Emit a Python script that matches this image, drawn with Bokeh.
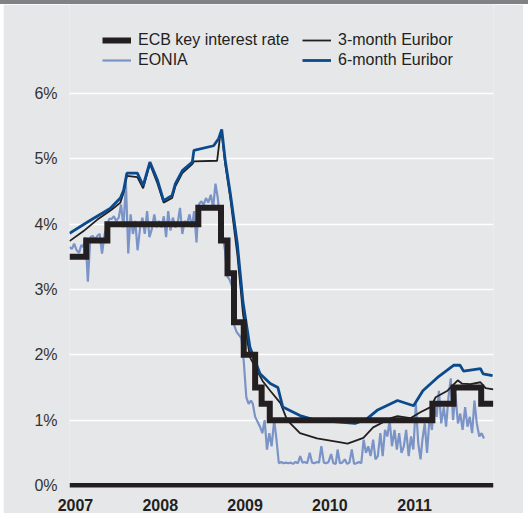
import numpy as np
import pandas as pd
from bokeh.plotting import figure
from bokeh.models import (Range1d, FixedTicker, CustomJSTickFormatter, Legend,
                          LegendItem, Span, Div)
from bokeh.layouts import column
from bokeh.embed import file_html
from bokeh.resources import INLINE

# ---------------- data ----------------
years = [2007, 2008, 2009, 2010, 2011]
pct_ticks = [0, 1, 2, 3, 4, 5, 6]

ecb_dates = ["2007-01-01", "2007-03-14", "2007-06-13", "2008-07-09", "2008-10-15",
             "2008-11-12", "2008-12-10", "2009-01-21", "2009-03-11", "2009-04-08",
             "2009-05-13", "2011-04-13", "2011-07-13", "2011-11-09", "2011-12-31"]
ecb_rates = [3.50, 3.75, 4.00, 4.25, 3.75, 3.25, 2.50, 2.00, 1.50, 1.25,
             1.00, 1.25, 1.50, 1.25, 1.25]

eur3m_dates = ["2007-01-01", "2007-03-01", "2007-05-01", "2007-07-01", "2007-08-08",
               "2007-08-22", "2007-09-05", "2007-10-20", "2007-11-14", "2007-12-13",
               "2008-01-15", "2008-02-10", "2008-03-18", "2008-04-01", "2008-05-01",
               "2008-06-13", "2008-06-20", "2008-09-28", "2008-10-10", "2008-10-18",
               "2008-11-02", "2008-11-24", "2008-12-24", "2009-01-18", "2009-02-17",
               "2009-04-12", "2009-05-15", "2009-06-28", "2009-07-27", "2009-09-20",
               "2009-12-02", "2010-03-14", "2010-04-13", "2010-06-20", "2010-08-01",
               "2010-10-16", "2010-11-14", "2011-01-08", "2011-02-20", "2011-04-05",
               "2011-04-27", "2011-06-17", "2011-07-31", "2011-08-18", "2011-09-24",
               "2011-11-06", "2011-11-28", "2011-12-31"]
eur3m_rates = [3.74, 3.89, 4.07, 4.22, 4.33,
               4.48, 4.74, 4.72, 4.55, 4.92,
               4.62, 4.33, 4.40, 4.58, 4.78,
               4.92, 4.96, 4.97, 5.32, 5.39,
               4.92, 4.40, 3.55, 2.62, 1.96,
               1.60, 1.45, 1.26, 1.00, 0.80,
               0.72, 0.66, 0.64, 0.73, 0.89,
               1.03, 1.06, 1.03, 1.12, 1.20,
               1.35, 1.45, 1.61, 1.56, 1.55,
               1.58, 1.49, 1.47]

eur6m_dates = ["2007-01-01", "2007-04-01", "2007-06-25", "2007-08-08", "2007-08-22",
               "2007-09-05", "2007-10-20", "2007-11-14", "2007-12-13", "2008-01-15",
               "2008-02-10", "2008-03-18", "2008-04-01", "2008-05-01", "2008-06-13",
               "2008-06-20", "2008-09-13", "2008-10-05", "2008-10-18", "2008-11-02",
               "2008-11-24", "2008-12-24", "2009-01-18", "2009-02-17", "2009-04-01",
               "2009-05-15", "2009-06-17", "2009-07-08", "2009-09-20", "2009-11-24",
               "2010-01-30", "2010-05-15", "2010-07-05", "2010-08-18", "2010-11-14",
               "2011-01-22", "2011-03-03", "2011-05-04", "2011-07-13", "2011-08-10",
               "2011-08-25", "2011-11-06", "2011-11-17", "2011-12-28"]
eur6m_rates = [3.86, 4.06, 4.24, 4.40, 4.52,
               4.78, 4.78, 4.59, 4.95, 4.67,
               4.36, 4.44, 4.62, 4.82, 4.95,
               5.13, 5.20, 5.31, 5.45, 4.98,
               4.47, 3.71, 2.80, 2.11, 1.71,
               1.56, 1.50, 1.20, 1.07, 1.00,
               0.98, 0.95, 1.02, 1.15, 1.30,
               1.22, 1.45, 1.65, 1.84, 1.84,
               1.75, 1.79, 1.71, 1.68]

# EONIA sampled on the 1st, 11th and 21st of each month, Jan 2007 - Nov 2011
eonia_months = pd.date_range("2007-01-01", "2011-11-01", freq="MS")
eonia_days = [1, 11, 21]
eonia_rates = [
    # 2007
    3.65, 3.62, 3.70,  3.60, 3.56, 3.68,  3.65, 3.80, 3.12,  3.80, 3.82, 3.76,
    3.82, 3.85, 3.55,  3.84, 3.98, 4.08,  4.08, 4.12, 4.05,  4.10, 4.30, 3.95,
    4.62, 3.55, 4.15,  3.85, 4.05, 3.60,  3.95, 4.10, 3.85,  4.20, 3.80, 3.92,
    # 2008
    4.15, 3.95, 4.05,  3.95, 4.12, 3.80,  4.20, 3.90, 4.10,  3.95, 4.02, 4.25,
    3.85, 4.05, 4.00,  4.15, 3.95, 4.20,  3.72, 4.30, 4.35,  4.30, 4.40, 4.33,
    4.45, 4.25, 4.62,  4.40, 4.05, 3.85,  3.60, 3.20, 3.15,  3.05, 2.45, 2.35,
    # 2009
    2.30, 2.25, 1.90,  1.35, 1.25, 1.30,  1.25, 1.05, 0.98,  0.90, 0.80, 1.00,
    0.55, 0.80, 0.60,  1.00, 0.70, 0.34,  0.36, 0.34, 0.35,  0.34, 0.35, 0.33,
    0.36, 0.34, 0.45,  0.35, 0.36, 0.34,  0.50, 0.35, 0.34,  0.36, 0.35, 0.60,
    # 2010
    0.35, 0.34, 0.36,  0.48, 0.34, 0.33,  0.55, 0.34, 0.35,  0.40, 0.33, 0.35,
    0.55, 0.33, 0.34,  0.36, 0.34, 0.70,  0.50, 0.60, 0.45,  0.70, 0.40, 0.45,
    0.80, 0.45, 0.85,  0.75, 1.00, 0.60,  0.85, 0.55, 0.80,  0.50, 0.60, 0.85,
    # 2011
    0.45, 0.75, 0.55,  1.25, 0.65, 0.40,  0.70, 0.95, 0.50,  1.05, 0.85, 1.30,
    1.05, 1.45, 0.95,  1.20, 0.90, 1.35,  1.64, 1.00, 1.40,  0.95, 1.10, 0.85,
    1.20, 0.90, 1.05,  0.80, 1.30, 0.95,  0.75, 0.80, 0.72,
]

eonia_dates = [m + pd.Timedelta(days=d - 1) for m in eonia_months for d in eonia_days]
assert len(eonia_dates) == len(eonia_rates)


def to_year(ds):
    d = pd.to_datetime(pd.Series(list(ds)))
    ndays = np.where(d.dt.is_leap_year, 366, 365)
    return (d.dt.year + (d.dt.dayofyear - 1) / ndays).to_numpy()


# ---------------- styling ----------------
BG = "#e6e7e9"
DARK = "#231f20"
BLUE6 = "#0b4a8c"
EONIA_C = "#7b94c7"
FONT = "Liberation Sans"

Y0, Y1 = -0.031, 7.362

p = figure(frame_width=424, frame_height=483, output_backend="svg",
           toolbar_location=None, title=None,
           x_range=Range1d(2007.0, 2012.0), y_range=Range1d(Y0, Y1),
           min_border_left=66, min_border_right=30, min_border_top=0,
           min_border_bottom=0, margin=(0, 5, 0, 3))
p.background_fill_color = BG
p.border_fill_color = BG
p.outline_line_color = None

p.xgrid.grid_line_color = None
p.ygrid.grid_line_color = "white"
p.ygrid.grid_line_width = 1.6

p.xaxis.ticker = FixedTicker(ticks=[y + 0.07 for y in years])
p.xaxis.formatter = CustomJSTickFormatter(code="return Math.floor(tick).toString();")
p.xaxis.axis_line_color = None
p.xaxis.major_tick_line_color = None
p.xaxis.minor_tick_line_color = None
p.xaxis.major_label_text_font = FONT
p.xaxis.major_label_text_font_style = "bold"
p.xaxis.major_label_text_font_size = "16px"
p.xaxis.major_label_text_color = DARK
p.xaxis.major_label_standoff = 5

p.yaxis.ticker = FixedTicker(ticks=pct_ticks)
p.yaxis.formatter = CustomJSTickFormatter(code="return tick.toFixed(0) + '%';")
p.yaxis.axis_line_color = None
p.yaxis.major_tick_line_color = None
p.yaxis.minor_tick_line_color = None
p.yaxis.major_label_text_font = FONT
p.yaxis.major_label_text_font_size = "16px"
p.yaxis.major_label_text_color = "#333333"
p.yaxis.major_label_standoff = 6

p.add_layout(Span(location=0, dimension="width", line_color=DARK, line_width=5))

r_eonia = p.line(to_year(eonia_dates), eonia_rates, line_color=EONIA_C, line_width=2.2)
r_3m = p.line(to_year(eur3m_dates), eur3m_rates, line_color=DARK, line_width=1.8)
r_6m = p.line(to_year(eur6m_dates), eur6m_rates, line_color=BLUE6, line_width=2.8)
r_ecb = p.step(to_year(ecb_dates), ecb_rates, mode="after", line_color=DARK,
               line_width=6, line_join="miter")

leg_kw = dict(padding=0, margin=0, spacing=0, label_height=20, glyph_height=20,
              glyph_width=29, label_standoff=7, border_line_alpha=0,
              background_fill_alpha=0, label_text_font=FONT,
              label_text_font_size="16px", label_text_color=DARK)
leg1 = Legend(items=[LegendItem(label="ECB key interest rate", renderers=[r_ecb]),
                     LegendItem(label="EONIA", renderers=[r_eonia])],
              location=(33, 417), **leg_kw)
leg2 = Legend(items=[LegendItem(label="3-month Euribor", renderers=[r_3m]),
                     LegendItem(label="6-month Euribor", renderers=[r_6m])],
              location=(233, 417), **leg_kw)
p.add_layout(leg1)
p.add_layout(leg2)

bar = Div(text="", width=528, height=4, margin=(0, 0, 0, 0),
          styles={"background-color": "#818286"})
layout = column(bar, p, spacing=0)

open("out.html", "w").write(file_html(layout, INLINE))
